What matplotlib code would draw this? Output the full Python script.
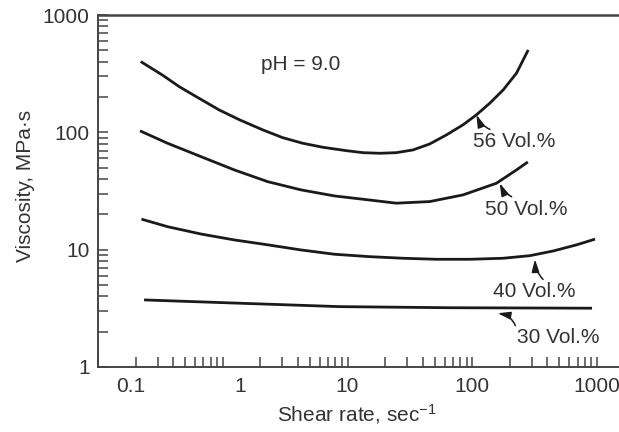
import matplotlib
matplotlib.use("Agg")
import matplotlib.pyplot as plt
import matplotlib.ticker as mticker
import matplotlib.transforms as mtransforms

plt.rcParams['font.family'] = ['Liberation Sans', 'DejaVu Sans']
plt.rcParams['mathtext.default'] = 'regular'

# viscosity curves (shear rate in 1/s, viscosity in MPa·s)
x56 = [0.220, 0.328, 0.448, 0.610, 0.938, 1.36, 2.09, 3.02, 4.38, 6.34, 9.77, 13.3,
       18.1, 24.6, 33.5, 45.6, 62.1, 84.4, 108, 138, 177, 226, 281]
y56 = [401, 308, 245, 202, 155, 128, 105, 90.1, 80.7, 74.6, 69.8, 67.1,
       66.3, 67.1, 70.8, 79.6, 95.1, 116, 141, 177, 230, 319, 504]

x50 = [0.217, 0.361, 0.668, 1.24, 2.29, 4.25, 7.87, 13.3, 24.6, 45.6, 84.4, 156, 226, 279]
y50 = [103, 80.7, 62.1, 47.8, 38.0, 32.3, 28.7, 26.9, 24.9, 25.7, 29.3, 36.8, 47.8, 55.9]

x40 = [0.223, 0.361, 0.668, 1.24, 2.29, 4.25, 7.87, 15.0, 27.8, 51.6, 95.5, 177, 290, 446, 687, 964]
y40 = [18.2, 15.7, 13.6, 12.1, 11.0, 9.94, 9.14, 8.72, 8.45, 8.28, 8.28, 8.45, 8.89, 9.75, 11.0, 12.3]

x30 = [0.234, 1.13, 8.63, 65.9, 912]
y30 = [3.73, 3.52, 3.27, 3.20, 3.17]

labels = ['56 Vol.%', '50 Vol.%', '40 Vol.%', '30 Vol.%']
tips = [(108, 141), (166, 36.8), (318, 8.28), (160, 2.87)]
text_pos = [(101, 83.3), (126, 22.2), (146, 4.38), (228, 1.77)]
xticks = [0.1, 1, 10, 100, 1000]
yticks = [1, 10, 100, 1000]

ink = '#1a1a1a'
txt = '#333333'
fs = 15

fig = plt.figure(figsize=(6.19, 4.32), dpi=100)
ax = fig.add_axes([98/619, 65/432, 1 - 98/619, 352/432])

for xs, ys in [(x56, y56), (x50, y50), (x40, y40), (x30, y30)]:
    ax.plot(xs, ys, color=ink, lw=2.0, solid_capstyle='butt', solid_joinstyle='round')

ax.set_xscale('log')
ax.set_yscale('log')
ax.set_xlim(0.1, 1500)
ax.set_ylim(1, 1000)

ax.xaxis.set_major_locator(mticker.FixedLocator(xticks))
ax.set_xticklabels(['0.1', '1', '10', '100', '1000'])
ax.yaxis.set_major_locator(mticker.FixedLocator(yticks))
ax.set_yticklabels(['1', '10', '100', '1000'])
ax.xaxis.set_minor_locator(mticker.LogLocator(base=10, subs=range(2, 10)))
ax.yaxis.set_minor_locator(mticker.LogLocator(base=10, subs=range(2, 10)))
ax.xaxis.set_minor_formatter(mticker.NullFormatter())
ax.yaxis.set_minor_formatter(mticker.NullFormatter())

ax.tick_params(which='both', direction='in', length=7, width=1.1, color='#444444',
               labelsize=fs, labelcolor=txt, top=False, right=False)
ax.tick_params(axis='x', which='major', pad=7)
ax.tick_params(axis='y', which='major', pad=6)

# the 0.1 and 1 labels sit right of their ticks in the original
shifts = {0: 33, 1: 17}
for i, lab in enumerate(ax.get_xticklabels()):
    if i in shifts:
        off = mtransforms.ScaledTranslation(shifts[i] / 100, 0, fig.dpi_scale_trans)
        lab.set_transform(lab.get_transform() + off)

for side in ['left', 'bottom', 'top']:
    ax.spines[side].set_color('#444444')
    ax.spines[side].set_linewidth(1.4)
ax.spines['top'].set_linewidth(1.8)
ax.spines['right'].set_visible(False)

ax.set_xlabel(r'Shear rate, sec$^{-1}$', fontsize=fs, color=txt)
ax.set_ylabel('Viscosity, MPa·s', fontsize=fs, color=txt)
ax.xaxis.set_label_coords(0.497, -0.1)
ax.yaxis.set_label_coords(-0.12, 0.515)

ax.text(2.04, 376, 'pH = 9.0', fontsize=fs, color=txt, ha='left', va='center')

relx = [0.27, 0.37, 0.63, 0.0]
rely = [1.05, 1.05, 1.05, 0.5]
rads = [-0.25, -0.2, -0.2, 0.45]
for lab, tip, pos, rx, ry, rad in zip(labels, tips, text_pos, relx, rely, rads):
    ax.annotate(lab, xy=tip, xytext=pos, fontsize=fs, color=txt, ha='left', va='center',
                arrowprops=dict(arrowstyle='-|>,head_length=0.5,head_width=0.15',
                                color=ink, lw=1.1, shrinkA=0, shrinkB=0,
                                relpos=(rx, ry), connectionstyle='arc3,rad=%s' % rad))

fig.savefig('out.png', dpi=100)
